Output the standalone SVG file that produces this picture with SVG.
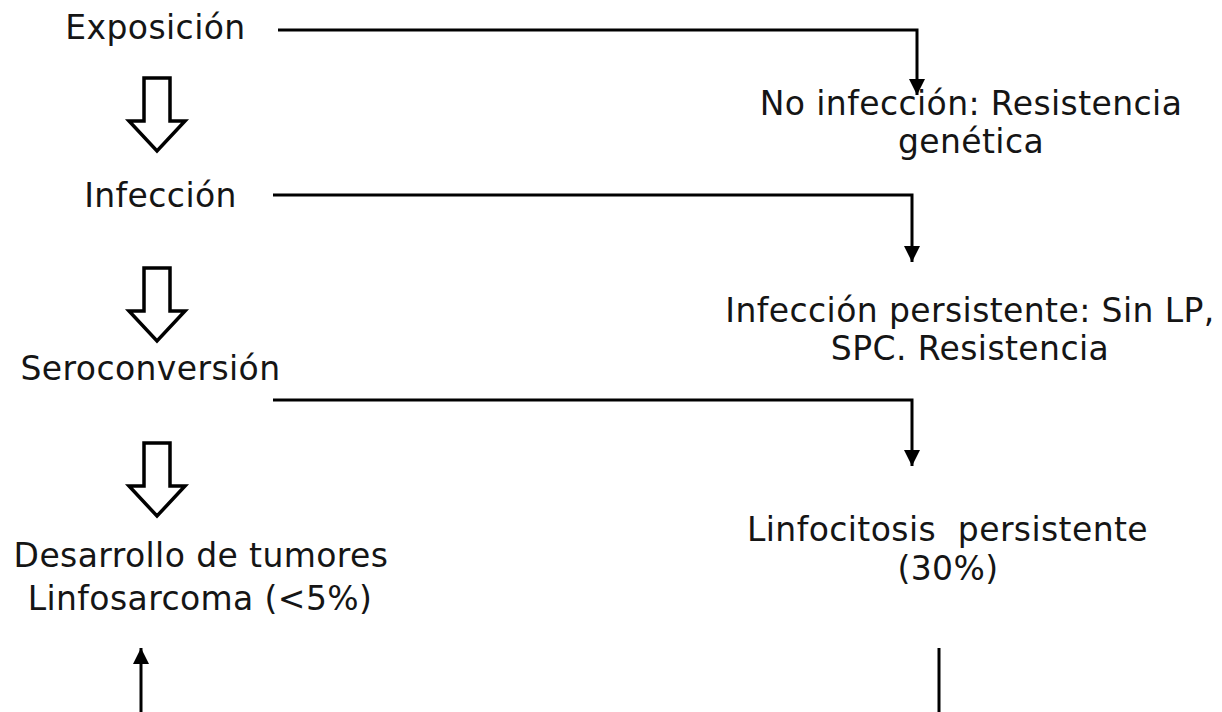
<svg xmlns="http://www.w3.org/2000/svg" width="1222" height="712" viewBox="0 0 1222 712">
  <style>
    .t { font-family: "DejaVu Sans", Verdana, sans-serif; font-size: 33px; fill: #151515; white-space: pre; letter-spacing: 0.4px; }
    .c { text-anchor: middle; }
    .conn { fill: none; stroke: #000; stroke-width: 3; }
    .hollow { fill: #fff; stroke: #000; stroke-width: 3.5; stroke-linejoin: miter; }
  </style>
  <defs>
    <marker id="ah" markerUnits="userSpaceOnUse" markerWidth="18" markerHeight="16" viewBox="0 0 18 16" refX="16" refY="8" orient="auto">
      <path d="M0,0 L16,8 L0,16 Z" fill="#000"/>
    </marker>
    <polygon id="hollowArrow" points="-13,0 13,0 13,43 28,43 0,73 -28,43 -13,43"/>
  </defs>

  <g id="connectors">
    <path class="conn" d="M278,30 H917 V95" marker-end="url(#ah)"/>
    <path class="conn" d="M273,195 H912 V262" marker-end="url(#ah)"/>
    <path class="conn" d="M273,400 H912 V466" marker-end="url(#ah)"/>
    <path class="conn" d="M141,712 V648" marker-end="url(#ah)"/>
    <path class="conn" d="M939,648 V712"/>
    <use href="#hollowArrow" class="hollow" x="157" y="78"/>
    <use href="#hollowArrow" class="hollow" x="157" y="268"/>
    <use href="#hollowArrow" class="hollow" x="157" y="443"/>
  </g>

  <g id="exposicion">
    <text class="t c" x="155.5" y="39">Exposición</text>
  </g>
  <g id="infeccion">
    <text class="t c" x="160.5" y="207">Infección</text>
  </g>
  <g id="seroconversion">
    <text class="t c" x="150.5" y="380">Seroconversión</text>
  </g>
  <g id="desarrollo">
    <text class="t c" x="201" y="567">Desarrollo de tumores</text>
    <text class="t c" x="200" y="610">Linfosarcoma (&lt;5%)</text>
  </g>
  <g id="no-infeccion">
    <text class="t c" x="971" y="115">No infección: Resistencia</text>
    <text class="t c" x="971" y="153">genética</text>
  </g>
  <g id="infeccion-persistente">
    <text class="t c" x="970" y="322">Infección persistente: Sin LP,</text>
    <text class="t c" x="970" y="360">SPC. Resistencia</text>
  </g>
  <g id="linfocitosis">
    <text class="t c" x="947.5" y="541">Linfocitosis  persistente</text>
    <text class="t c" x="948" y="580">(30%)</text>
  </g>
</svg>
